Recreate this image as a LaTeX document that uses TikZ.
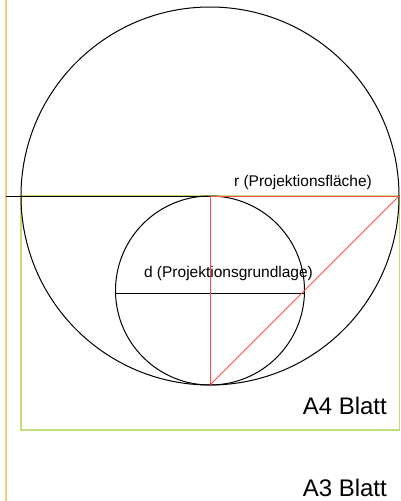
\documentclass[tikz,border=0pt]{standalone}
\usepackage{fontspec}
\setmainfont{Liberation Sans}
\usetikzlibrary{calc}

\begin{document}
\begin{tikzpicture}[x=1pt, y=-1pt]
    % Define colours
    \definecolor{sheetThreeColour}{HTML}{FFC878}
    \definecolor{sheetFourColour}{HTML}{C3DE78}
    \definecolor{redColour}{HTML}{FF4C4C}

    % Define radii
    \def\bigRadius{189}
    \def\smallRadius{94.5}

    % Fix picture size
    \useasboundingbox (0,0) rectangle (400,501);

    % Define coordinates
    \coordinate (M) at (210,196);
    \coordinate (m) at (210,290.5);
    \coordinate (L) at (6,196);
    \coordinate (R) at (399,196);
    \coordinate (S) at (210,385);
    \coordinate (mW) at ($(m)+(-94.4,2.5)$);
    \coordinate (mE) at ($(m)+(94.4,2.5)$);

    % Draw the A3 sheet edge
    \draw[sheetThreeColour, line width=1.5pt] (6,0) -- (6,501);

    % Draw the A4 sheet
    \draw[sheetFourColour, line width=1.5pt] (21,196) rectangle (399.5,430);

    % Draw circles
    \draw[line width=1pt] (M) circle (\bigRadius);
    \draw[line width=1pt] (m) circle (\smallRadius);

    % Draw black lines
    \draw[line width=1pt] (L) -- (M);
    \draw[line width=1pt] (mW) -- (mE);

    % Draw red lines
    \draw[redColour, line width=1pt] (M) -- (R);
    \draw[redColour, line width=1pt] (M) -- (S);
    \draw[redColour, line width=1pt] (S) -- (R);

    % Label the lines and sheets
    \node[anchor=base, inner sep=0pt] (rLabel) at (303,186) {\fontsize{15.5}{18}\selectfont r (Projektionsfläche)};
    \node[anchor=base, inner sep=0pt] (dLabel) at (228.5,277) {\fontsize{15.5}{18}\selectfont d (Projektionsgrundlage)};
    \node[anchor=base east, inner sep=0pt] (fourLabel) at (387,414) {\fontsize{24}{28}\selectfont A4 Blatt};
    \node[anchor=base east, inner sep=0pt] (threeLabel) at (387,496) {\fontsize{24}{28}\selectfont A3 Blatt};

\end{tikzpicture}
\end{document}
